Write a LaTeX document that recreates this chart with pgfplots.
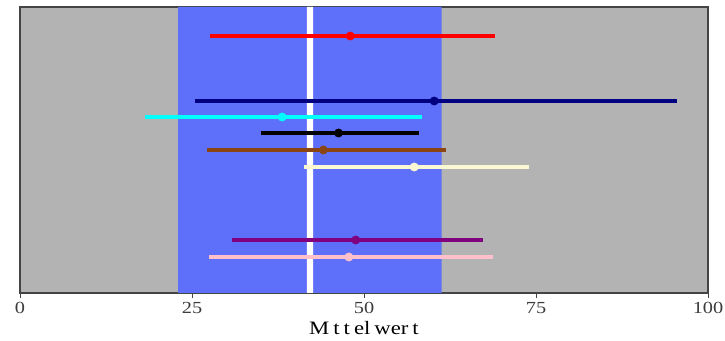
\documentclass[border=0pt]{standalone}
\usepackage{pgfplots}
\pgfplotsset{compat=1.18}
\usepackage{fontspec}
\setmainfont{Liberation Serif}
\newfontfamily\stretched[FakeStretch=1.2]{Liberation Serif}
\definecolor{bggray}{RGB}{179,179,179}
\definecolor{bandblue}{RGB}{94,111,250}
\definecolor{axgray}{RGB}{68,68,68}
\definecolor{txtgray}{RGB}{60,60,60}
\definecolor{sbrown}{RGB}{139,69,19}
\definecolor{cream}{RGB}{250,248,210}
\definecolor{navyc}{RGB}{0,0,128}
\definecolor{cyanc}{RGB}{0,255,255}
\definecolor{purplec}{RGB}{128,0,128}
\definecolor{pinkc}{RGB}{255,192,203}
\begin{document}
\begin{tikzpicture}
\useasboundingbox (0,0) rectangle (725bp,341bp);
\begin{axis}[
  at={(20bp,48bp)}, anchor=south west,
  scale only axis, width=688bp, height=286bp,
  xmin=0, xmax=100, ymin=0, ymax=286,
  xtick={0,25,50,75,100}, ytick=\empty,
  axis background/.style={fill=bggray},
  axis line style={axgray, line width=1.5bp},
  tick style={axgray, line width=1bp},
  tick align=outside, major tick length=5bp,
  xtick pos=bottom,
  /pgf/number format/assume math mode=true,
  tick label style={font=\stretched\fontsize{17}{20}\selectfont, text=txtgray},
  xticklabel style={yshift=-1bp},
  xlabel={{\spaceskip=4bp M t t el wer t}},
  xlabel style={font=\stretched\fontsize{19}{22}\selectfont, text=black, yshift=-1bp},
  clip=true,
]
\addplot[draw=none, fill=bandblue] coordinates {(23,0)(61.3,0)(61.3,286)(23,286)} \closedcycle;
\addplot[draw=none, fill=white] coordinates {(41.7,0)(42.6,0)(42.6,286)(41.7,286)} \closedcycle;
% red
\addplot[red, line width=3.5bp] coordinates {(27.6,257)(69.0,257)};
\addplot[red, only marks, mark=*, mark size=4.2bp] coordinates {(48.0,257)};
% navy
\addplot[navyc, line width=3.5bp] coordinates {(25.5,192)(95.5,192)};
\addplot[navyc, only marks, mark=*, mark size=4.2bp] coordinates {(60.2,192)};
% cyan
\addplot[cyanc, line width=3.5bp] coordinates {(18.2,176)(58.5,176)};
\addplot[cyanc, only marks, mark=*, mark size=4.2bp] coordinates {(38.1,176)};
% black
\addplot[black, line width=3.5bp] coordinates {(35.1,160)(58.0,160)};
\addplot[black, only marks, mark=*, mark size=4.2bp] coordinates {(46.3,160)};
% brown
\addplot[sbrown, line width=3.5bp] coordinates {(27.2,143)(61.9,143)};
\addplot[sbrown, only marks, mark=*, mark size=4.2bp] coordinates {(44.1,143)};
% cream
\addplot[cream, line width=3.5bp] coordinates {(41.3,126)(74.0,126)};
\addplot[cream, only marks, mark=*, mark size=4.2bp] coordinates {(57.3,126)};
% purple
\addplot[purplec, line width=3.5bp] coordinates {(30.8,53)(67.3,53)};
\addplot[purplec, only marks, mark=*, mark size=4.2bp] coordinates {(48.8,53)};
% pink
\addplot[pinkc, line width=3.5bp] coordinates {(27.5,36)(68.8,36)};
\addplot[pinkc, only marks, mark=*, mark size=4.2bp] coordinates {(47.8,36)};
\end{axis}
\end{tikzpicture}
\end{document}
